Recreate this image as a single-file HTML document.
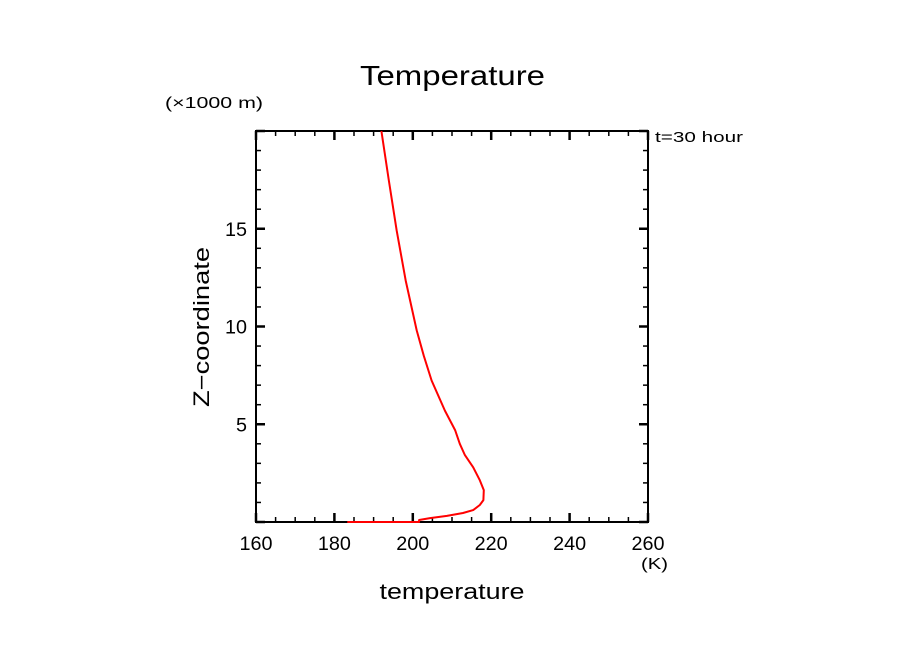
<!DOCTYPE html>
<html><head><meta charset="utf-8"><style>
html,body{margin:0;padding:0;background:#fff;}
svg{display:block;font-family:"Liberation Sans",sans-serif;}
</style></head><body>
<svg id="chart" width="904" height="654" viewBox="0 0 904 654">
<text x="360" y="85" font-size="28" textLength="185" lengthAdjust="spacingAndGlyphs">Temperature</text>
<text x="165" y="108" font-size="16" textLength="98" lengthAdjust="spacingAndGlyphs">(×1000 m)</text>
<text x="655" y="142" font-size="15" textLength="88" lengthAdjust="spacingAndGlyphs">t=30 hour</text>
<text x="641" y="569" font-size="16" textLength="27" lengthAdjust="spacingAndGlyphs">(K)</text>
<text x="452" y="599" font-size="22" text-anchor="middle" textLength="145" lengthAdjust="spacingAndGlyphs">temperature</text>
<text transform="translate(209,327) rotate(-90)" font-size="22" text-anchor="middle" textLength="160" lengthAdjust="spacingAndGlyphs">Z−coordinate</text>
<g id="axes"></g>
<rect x="256" y="131" width="392" height="391" fill="none" stroke="#000" stroke-width="2"/>
<path id="curve" fill="none" stroke="#f00" stroke-width="2" stroke-linejoin="round"/>
</svg>
<script>
const xTicks=[160,180,200,220,240,260];
const yTicks=[5,10,15];
const heights=[0,0,0.1,0.2,0.31,0.46,0.61,0.87,1.12,1.63,2.14,2.8,3.42,4.0,4.7,5.7,7.24,8.5,9.8,12.35,14.9,17.45,20];
const temps=[183.3,201.6,201.6,204.4,208.7,212.8,215.4,217.1,218.0,218.1,217.1,215.4,213.3,212.0,210.8,208.2,204.8,202.8,201.0,198.2,195.9,193.9,192.0];
const X0=256,X1=648,Y0=522,Y1=131;
const xs=t=>X0+(t-160)/100*(X1-X0);
const ys=z=>Y0-z/20*(Y0-Y1);
const ns="http://www.w3.org/2000/svg";
const g=document.getElementById('axes');
function line(x1,y1,x2,y2,w,name){const l=document.createElementNS(ns,'line');
l.setAttribute('x1',x1);l.setAttribute('y1',y1);l.setAttribute('x2',x2);l.setAttribute('y2',y2);
l.setAttribute('stroke','#000');l.setAttribute('stroke-width',w);


g.appendChild(l);}
function text(x,y,s,anchor,name,len){const t=document.createElementNS(ns,'text');
t.setAttribute('x',x);t.setAttribute('y',y);t.setAttribute('font-size','19');t.setAttribute('text-anchor',anchor);
t.setAttribute('textLength',len);t.setAttribute('lengthAdjust','spacingAndGlyphs');t.textContent=s;


g.appendChild(t);}
for(let v=160;v<=260;v+=5){const x=xs(v);const major=v%20===0;const L=major?9:5;
line(x,Y0,x,Y0-L,major?2.5:1.5,'x-tick');line(x,Y1,x,Y1+L,major?2.5:1.5,'x-tick');}
for(let z=0;z<=20;z++){const y=ys(z);const major=z%5===0;const L=major?9:5;
line(X0,y,X0+L,y,major?2.5:1.5,'y-tick');line(X1,y,X1-L,y,major?2.5:1.5,'y-tick');}
xTicks.forEach(v=>text(xs(v),550,String(v),'middle','x-tick-label',33));
yTicks.forEach(v=>text(247,ys(v)+7,String(v),'end','y-tick-label',String(v).length*11));
document.getElementById('curve').setAttribute('d',temps.map((t,i)=>(i?'L':'M')+xs(t).toFixed(1)+','+ys(heights[i]).toFixed(1)).join(''));
</script>
</body></html>
